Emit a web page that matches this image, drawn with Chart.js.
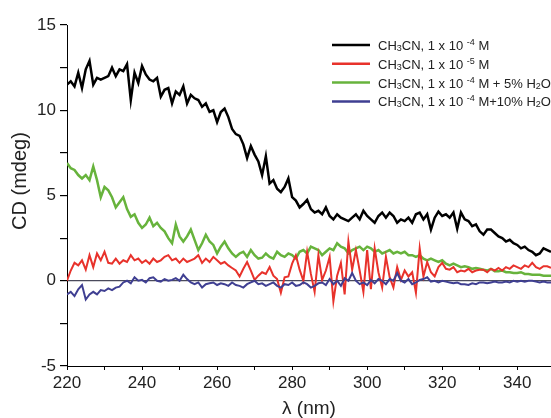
<!DOCTYPE html>
<html lang="en">
<head>
  <meta charset="UTF-8" />
  <title>CD spectra</title>
  <script src="https://cdn.jsdelivr.net/npm/chart.js"></script>
  <style>
    body { margin: 0; background: #fff; }
    #wrap { width: 551px; height: 418px; }
  </style>
</head>
<body>
  <div id="wrap"><canvas id="cdChart" width="551" height="418"></canvas></div>

  <script>
    // wavelength (nm)
    const wavelengths = [
      220,221,222,223,224,225,226,227,228,229,230,231,232,233,234,235,236,237,238,239,
      240,241,242,243,244,245,246,247,248,249,250,251,252,253,254,255,256,257,258,259,
      260,261,262,263,264,265,266,267,268,269,270,271,272,273,274,275,276,277,278,279,
      280,281,282,283,284,285,286,287,288,289,290,291,292,293,294,295,296,297,298,299,
      300,301,302,303,304,305,306,307,308,309,310,311,312,313,314,315,316,317,318,319,
      320,321,322,323,324,325,326,327,328,329,330,331,332,333,334,335,336,337,338,339,
      340,341,342,343,344,345,346,347,348,349
    ];

    // CH3CN, 1e-4 M
    const cdMeCN4 = [
      11.5,11.7,11.4,12.2,11.3,12.4,12.9,11.5,11.9,11.8,11.9,12.0,12.5,12.0,12.4,12.3,12.7,10.6,12.2,11.6,
      12.6,12.1,11.8,11.7,11.9,10.8,11.2,11.3,10.4,11.1,10.9,11.4,10.4,10.9,10.7,10.6,10.2,10.4,9.9,10.0,
      9.3,9.9,10.1,9.6,8.9,8.6,8.5,8.0,7.2,7.9,7.4,7.0,6.2,7.3,5.7,5.9,5.4,5.2,5.5,6.0,
      4.9,4.7,4.3,4.5,4.75,4.2,4.0,4.1,3.9,4.3,3.8,3.6,3.9,3.7,3.6,3.5,3.7,3.9,3.6,4.1,
      3.8,3.6,3.4,3.8,4.0,3.7,4.0,3.8,3.4,3.6,3.5,3.7,3.4,3.9,4.0,3.6,3.9,3.0,3.7,4.05,
      3.8,3.9,3.7,4.0,3.05,4.0,3.6,3.5,3.2,3.3,2.9,2.7,3.0,3.0,2.8,2.6,2.5,2.3,2.4,2.2,
      2.1,1.9,2.0,1.8,1.7,1.5,1.6,1.9,1.8,1.7
    ];

    // CH3CN, 1e-5 M
    const cdMeCN5 = [
      0.0,0.6,1.05,0.9,1.2,0.65,1.5,0.8,1.6,1.2,1.7,1.05,1.0,1.3,1.0,1.2,1.1,1.5,1.2,1.3,
      1.05,1.2,1.0,1.3,1.1,1.2,1.4,1.5,1.2,1.3,1.05,1.3,1.1,1.2,1.3,1.5,1.05,1.3,1.1,1.4,
      1.2,1.0,1.1,0.9,0.75,0.6,0.25,0.7,1.1,0.6,0.05,0.3,0.5,0.4,0.8,0.3,0.1,-0.7,0.2,0.25,
      1.0,1.5,0.65,0.0,1.7,0.4,-0.65,1.5,0.05,0.6,1.4,-1.2,0.3,1.05,-0.8,2.3,0.65,1.8,0.6,-0.65,
      1.8,-0.5,1.9,0.5,-0.4,1.4,0.2,-0.4,0.8,0.05,0.6,0.25,0.5,-0.7,1.9,0.25,1.1,0.5,0.25,0.8,
      1.05,0.7,0.65,0.8,0.5,0.6,0.55,0.7,0.5,0.6,0.65,0.65,0.5,0.7,0.6,0.75,0.6,0.8,0.7,0.9,
      0.8,0.7,0.9,0.8,1.05,0.8,0.7,0.85,0.85,0.75
    ];

    // CH3CN, 1e-4 M + 5% H2O
    const cdWater5 = [
      6.9,6.6,6.5,6.2,6.0,6.2,5.9,6.7,5.9,4.9,5.5,5.3,4.9,4.3,4.6,4.9,4.2,3.75,3.9,3.4,
      3.1,3.3,3.7,3.2,3.4,3.1,2.9,2.5,2.2,3.3,2.6,2.3,2.6,3.0,2.4,1.8,2.2,2.7,2.3,2.1,
      1.6,2.0,2.3,1.9,1.6,1.4,1.6,1.7,1.4,1.8,1.5,1.3,1.35,1.6,1.4,1.3,1.7,1.5,1.4,1.6,
      1.5,1.3,1.7,1.8,1.6,2.0,1.9,1.8,1.5,1.7,1.9,1.8,2.2,2.0,1.9,1.6,1.8,1.9,2.0,1.8,
      2.0,1.9,1.7,1.8,1.6,1.7,1.8,1.6,1.7,1.6,1.7,1.5,1.5,1.4,1.5,1.3,1.2,1.3,1.2,1.1,
      1.2,1.0,0.9,1.0,0.9,0.8,0.85,0.8,0.7,0.75,0.7,0.65,0.6,0.7,0.55,0.55,0.6,0.5,0.5,0.45,
      0.45,0.5,0.4,0.4,0.35,0.35,0.35,0.3,0.3,0.3
    ];

    // CH3CN, 1e-4 M + 10% H2O
    const cdWater10 = [
      -0.8,-0.65,-0.9,-0.5,-0.25,-1.1,-0.8,-0.65,-0.8,-0.55,-0.6,-0.45,-0.55,-0.4,-0.35,-0.1,0.0,-0.15,0.2,0.0,
      0.05,-0.1,0.15,0.2,0.0,-0.05,0.1,0.0,0.05,0.15,0.0,0.35,0.1,-0.1,-0.2,-0.1,-0.4,-0.2,-0.15,-0.1,
      -0.25,-0.15,-0.2,-0.3,-0.1,-0.25,-0.3,-0.4,-0.2,-0.1,0.0,-0.2,-0.15,-0.3,-0.2,-0.1,-0.3,-0.4,-0.2,-0.25,
      -0.1,-0.3,-0.25,-0.1,-0.2,-0.4,-0.3,-0.15,-0.1,-0.25,0.1,-0.2,0.0,-0.3,0.15,0.0,0.45,0.0,-0.2,-0.1,
      -0.25,0.05,-0.15,0.1,0.0,-0.2,0.1,0.0,0.45,0.0,-0.1,0.1,-0.2,-0.1,0.05,0.1,0.2,-0.05,0.0,-0.1,
      0.0,-0.05,-0.1,-0.15,-0.1,-0.2,-0.2,-0.25,-0.15,-0.2,-0.1,-0.1,-0.15,-0.1,-0.05,-0.1,-0.1,-0.05,-0.1,0.0,
      -0.05,0.0,-0.05,0.0,0.0,-0.05,-0.1,-0.05,-0.1,-0.1
    ];

    // legend text: _{..} subscript, ^{..} superscript
    const seriesLabels = [
      'CH_{3}CN, 1 x 10 ^{-4} M',
      'CH_{3}CN, 1 x 10 ^{-5} M',
      'CH_{3}CN, 1 x 10 ^{-4} M + 5% H_{2}O',
      'CH_{3}CN, 1 x 10 ^{-4} M+10% H_{2}O'
    ];
    const seriesColors = ['#000000', '#e8322b', '#67b33c', '#3f3f92'];
    const yTitle = 'CD (mdeg)';

    const FONT = "'Liberation Sans', Arial, Helvetica, sans-serif";

    // legend box with sub/superscripts, plus the y title (sits a bit above centre)
    const richLegend = {
      id: 'richLegend',
      afterDraw(chart) {
        const ctx = chart.ctx;
        ctx.save();
        seriesLabels.forEach((label, i) => {
          const y = 45 + i * 18.8;
          ctx.strokeStyle = seriesColors[i];
          ctx.lineWidth = 2.5;
          ctx.beginPath();
          ctx.moveTo(332, y);
          ctx.lineTo(370, y);
          ctx.stroke();

          let x = 378;
          ctx.fillStyle = '#222';
          ctx.textBaseline = 'alphabetic';
          ctx.textAlign = 'left';
          const parts = label.split(/([_^]\{[^}]*\})/).filter(p => p.length);
          parts.forEach(p => {
            let size = 13, shift = 0, txt = p;
            if (p[0] === '_') { size = 9; shift = 1; txt = p.slice(2, -1); }
            else if (p[0] === '^') { size = 9; shift = -5; txt = p.slice(2, -1); }
            ctx.font = size + 'px ' + FONT;
            ctx.fillText(txt, x, y + 5 + shift);
            x += ctx.measureText(txt).width;
          });
        });

        ctx.translate(20, 181);
        ctx.rotate(-Math.PI / 2);
        ctx.font = '20px ' + FONT;
        ctx.fillStyle = '#222';
        ctx.textAlign = 'center';
        ctx.textBaseline = 'middle';
        ctx.fillText(yTitle, 0, 0);
        ctx.restore();
      }
    };

    const mkSet = (data, i, order, w) => ({
      label: seriesLabels[i],
      data: data,
      borderColor: seriesColors[i],
      borderWidth: w,
      pointRadius: 0,
      tension: 0,
      fill: false,
      order: order
    });

    new Chart(document.getElementById('cdChart'), {
      type: 'line',
      data: {
        labels: wavelengths,
        datasets: [
          mkSet(cdMeCN4, 0, 4, 2.5),
          mkSet(cdMeCN5, 1, 2, 2),
          mkSet(cdWater5, 2, 3, 2.5),
          mkSet(cdWater10, 3, 1, 2)
        ]
      },
      options: {
        responsive: false,
        animation: false,
        devicePixelRatio: 1,
        layout: { padding: { top: 25, right: 0, left: 0, bottom: 0 } },
        plugins: { legend: { display: false }, tooltip: { enabled: false } },
        scales: {
          x: {
            type: 'linear',
            min: 220,
            max: 349,
            afterFit: s => { s.height = 52; },
            border: { display: true, color: '#000', width: 1 },
            grid: { display: true, drawOnChartArea: false, color: '#000', tickLength: 4 },
            ticks: {
              stepSize: 10,
              includeBounds: false,
              autoSkip: false,
              maxRotation: 0,
              padding: 3,
              color: '#222',
              font: { family: FONT, size: 17 },
              callback: v => (v % 20 === 0 ? String(v) : '')
            },
            title: {
              display: true,
              text: 'λ (nm)',
              color: '#222',
              font: { family: FONT, size: 19, lineHeight: 1 },
              padding: { top: 0, bottom: 0 }
            }
          },
          y: {
            min: -5,
            max: 15,
            afterFit: s => { s.width = 67; },
            border: { display: true, color: '#000', width: 1 },
            grid: {
              display: true,
              drawOnChartArea: true,
              tickLength: 7,
              tickColor: '#000',
              color: c => (c.tick && c.tick.value === 0 ? '#4a4a5c' : 'rgba(0,0,0,0)'),
              lineWidth: 1.2
            },
            ticks: {
              stepSize: 2.5,
              autoSkip: false,
              padding: 4,
              color: '#222',
              font: { family: FONT, size: 17 },
              callback: v => (v % 5 === 0 ? String(v) : '')
            },
            title: { display: false }
          }
        }
      },
      plugins: [richLegend]
    });
  </script>
</body>
</html>
